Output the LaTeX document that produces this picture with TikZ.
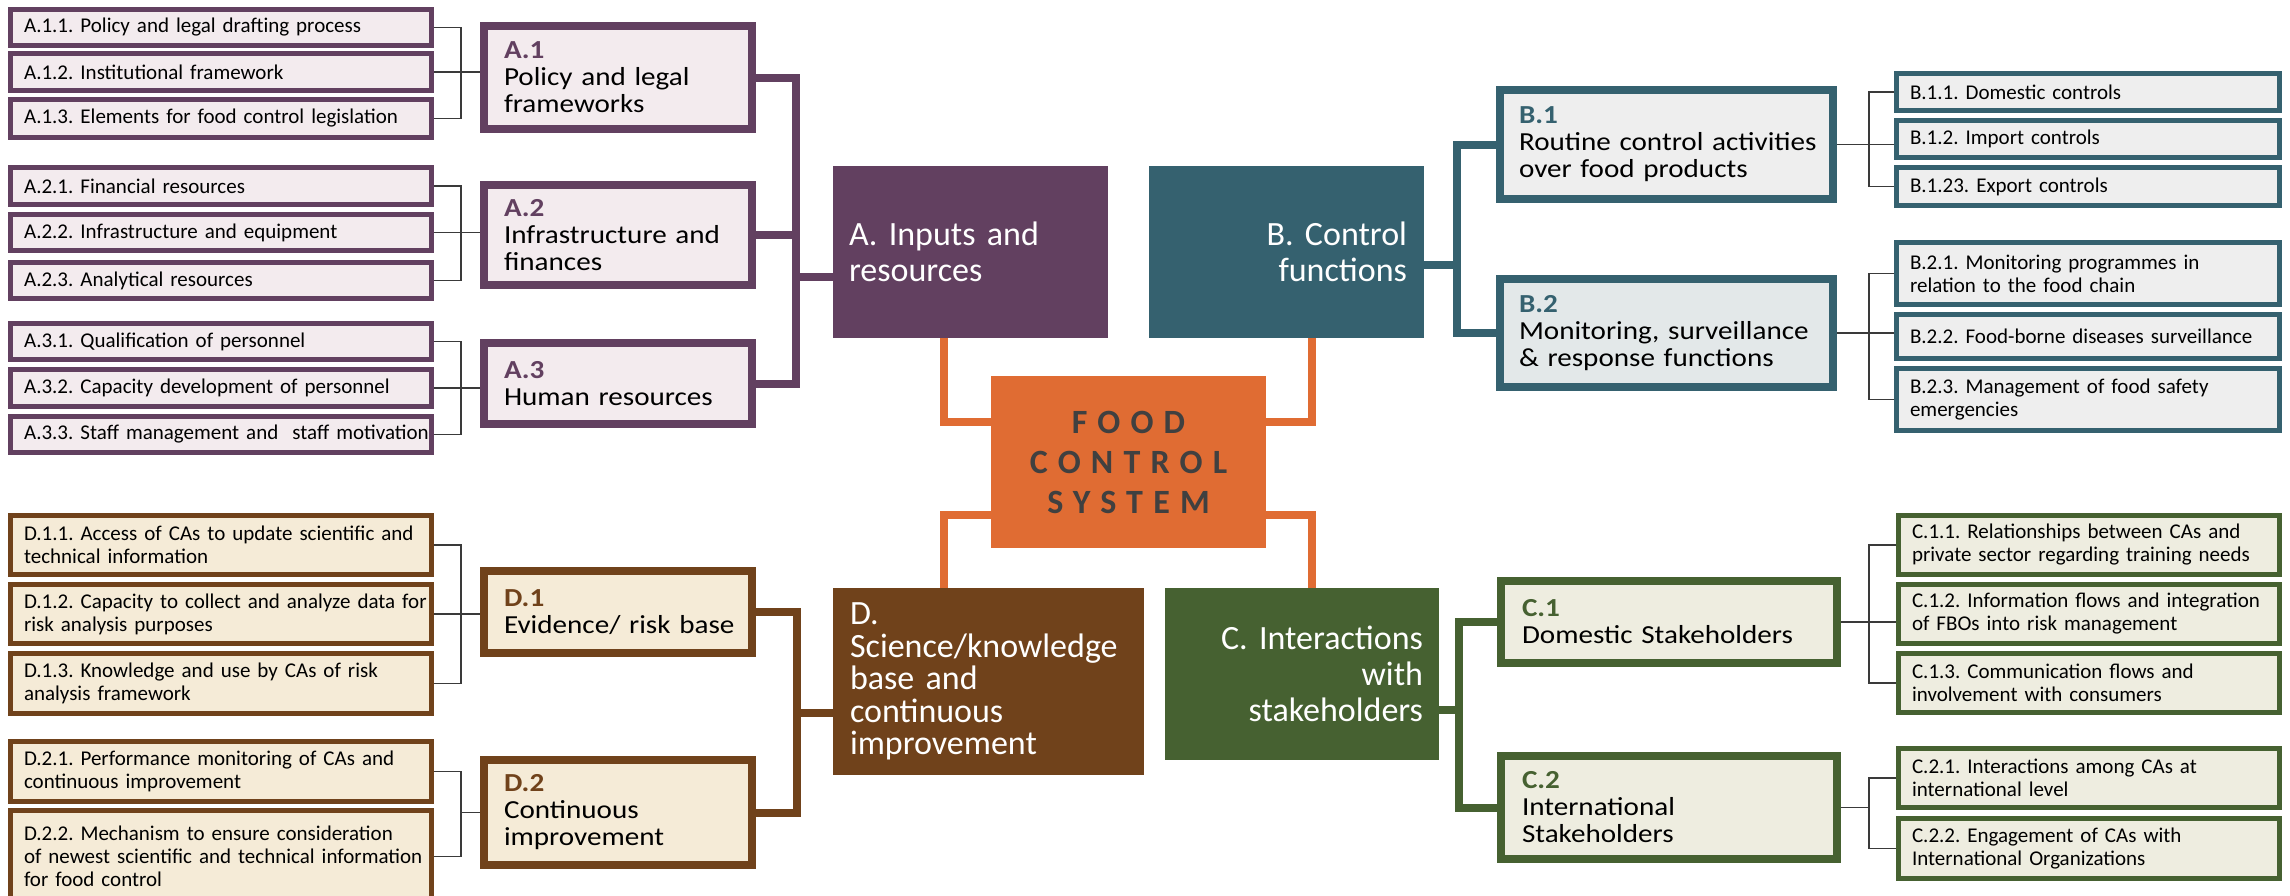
\documentclass[tikz,border=0pt]{standalone}
\usepackage{fontspec}
\setmainfont{Carlito}
\newfontfamily\grpfamily{Carlito}[FakeStretch=1.12]
\newfontfamily\foodfamily{Carlito}[LetterSpace=30]
\usetikzlibrary{calc}
\frenchspacing

\definecolor{pur}{HTML}{624060}
\definecolor{purL}{HTML}{F3EBEE}
\definecolor{tea}{HTML}{35616F}
\definecolor{teaL}{HTML}{EEEEEE}
\definecolor{teaLL}{HTML}{E3E8E9}
\definecolor{brn}{HTML}{70421B}
\definecolor{brnL}{HTML}{F5EBD7}
\definecolor{grn}{HTML}{466131}
\definecolor{grnL}{HTML}{EEEDE0}
\definecolor{org}{HTML}{E06C33}
\definecolor{fdtxt}{HTML}{404040}
\definecolor{thinc}{HTML}{3A3A3A}

% #1 style, #2 name, #3 x1, #4 y1, #5 x2, #6 y2, #7 line width, #8 text pad, #9 text
\newcommand\mkbox[9]{%
  \pgfmathsetmacro\bxw{#5-#3-#7}%
  \pgfmathsetmacro\bxh{#6-#4-#7}%
  \pgfmathsetmacro\bxt{#5-#3-2*#8}%
  \pgfmathsetmacro\bxcx{(#3+#5)/2}%
  \pgfmathsetmacro\bxcy{(#4+#6)/2}%
  \node[#1, line width=#7pt, minimum width=\bxw pt, minimum height=\bxh pt, text width=\bxt pt] (#2) at (\bxcx,\bxcy) {#9};%
}
\newcommand\glab[2]{\mbox{\bfseries\color{#1}#2}}

\tikzset{
  subbox/.style 2 args={draw=#1, fill=#2, align=left, inner sep=0pt, text=black,
    font=\fontsize{21}{23}\selectfont},
  grpbox/.style 2 args={draw=#1, fill=#2, align=left, inner sep=0pt, text=black,
    font=\grpfamily\fontsize{26}{27}\selectfont},
  mainL/.style={fill=#1, draw=none, align=left, inner sep=0pt, text=white,
    font=\fontsize{34}{36}\selectfont},
  mainR/.style={fill=#1, draw=none, align=right, inner sep=0pt, text=white,
    font=\fontsize{34}{36}\selectfont},
  foodbox/.style={fill=org, draw=none, align=center, inner sep=0pt, text=fdtxt,
    font=\foodfamily\bfseries\fontsize{34}{40}\selectfont},
  thinl/.style={draw=thinc, line width=1.8pt},
  thk/.style={draw=#1, line width=8pt, line join=miter},
  oline/.style={draw=org, line width=8pt, line join=miter},
}

\begin{document}
\begin{tikzpicture}[x=1pt,y=-1pt]
\useasboundingbox (0,0) rectangle (2290,895);
\clip (0,0) rectangle (2290,895);
\fill[white] (0,0) rectangle (2290,895);

% ---------- main boxes ----------
\mkbox{mainL=pur}{A}{833}{166}{1108}{338}{0}{16}{\mbox{A. Inputs and}\\\mbox{resources}}
\mkbox{mainR=tea}{B}{1149}{166}{1424}{338}{0}{17}{\mbox{B. Control}\\\mbox{functions}}
\mkbox{foodbox}{food}{991}{376}{1266}{548}{0}{10}{FOOD\\CONTROL\\SYSTEM}
\mkbox{mainR=grn}{C}{1165}{588}{1439}{760}{0}{16}{\mbox{C. Interactions}\\\mbox{with}\\\mbox{stakeholders}}
\mkbox{mainL=brn, font=\fontsize{34}{32.5}\selectfont}{D}{833}{588}{1144}{775}{0}{17}{\mbox{D.}\\\mbox{Science/knowledge}\\\mbox{base and}\\\mbox{continuous}\\\mbox{improvement}}

% ---------- A ----------
\mkbox{grpbox={pur}{purL}}{a1}{480}{22}{756}{133}{8}{24}{\glab{pur}{A.1}\\\mbox{Policy and legal}\\\mbox{frameworks}}
\mkbox{grpbox={pur}{purL}}{a2}{480}{181}{756}{289}{8}{24}{\glab{pur}{A.2}\\\mbox{Infrastructure and}\\\mbox{finances}}
\mkbox{grpbox={pur}{purL}}{a3}{480}{339}{756}{428}{8}{24}{\glab{pur}{A.3}\\\mbox{Human resources}}

\mkbox{subbox={pur}{purL}}{a11}{8}{7}{434}{48}{5}{16}{\mbox{A.1.1. Policy and legal drafting process}}
\mkbox{subbox={pur}{purL}}{a12}{8}{51}{434}{93}{5}{16}{\mbox{A.1.2. Institutional framework}}
\mkbox{subbox={pur}{purL}}{a13}{8}{97}{434}{140}{5}{16}{\mbox{A.1.3. Elements for food control legislation}}
\mkbox{subbox={pur}{purL}}{a21}{8}{165}{434}{207}{5}{16}{\mbox{A.2.1. Financial resources}}
\mkbox{subbox={pur}{purL}}{a22}{8}{212}{434}{253}{5}{16}{\mbox{A.2.2. Infrastructure and equipment}}
\mkbox{subbox={pur}{purL}}{a23}{8}{260}{434}{301}{5}{16}{\mbox{A.2.3. Analytical resources}}
\mkbox{subbox={pur}{purL}}{a31}{8}{321}{434}{362}{5}{16}{\mbox{A.3.1. Qualification of personnel}}
\mkbox{subbox={pur}{purL}}{a32}{8}{367}{434}{409}{5}{16}{\mbox{A.3.2. Capacity development of personnel}}
\mkbox{subbox={pur}{purL}}{a33}{8}{414}{434}{455}{5}{16}{\mbox{A.3.3. Staff management and~ staff motivation}}

% ---------- B ----------
\mkbox{grpbox={tea}{teaL}}{b1}{1496}{86}{1837}{203}{8}{23}{\glab{tea}{B.1}\\\mbox{Routine control activities}\\\mbox{over food products}}
\mkbox{grpbox={tea}{teaLL}}{b2}{1496}{275}{1837}{391}{8}{23}{\glab{tea}{B.2}\\\mbox{Monitoring, surveillance}\\\mbox{\& response functions}}

\mkbox{subbox={tea}{teaL}}{b11}{1894}{71}{2282}{113}{5}{16}{\mbox{B.1.1. Domestic controls}}
\mkbox{subbox={tea}{teaL}}{b12}{1894}{118}{2282}{160}{5}{16}{\mbox{B.1.2. Import controls}}
\mkbox{subbox={tea}{teaL}}{b13}{1894}{165}{2282}{208}{5}{16}{\mbox{B.1.23. Export controls}}
\mkbox{subbox={tea}{teaL}}{b21}{1894}{240}{2282}{307}{5}{16}{\mbox{B.2.1. Monitoring programmes in}\\\mbox{relation to the food chain}}
\mkbox{subbox={tea}{teaL}}{b22}{1894}{312}{2282}{361}{5}{16}{\mbox{B.2.2. Food-borne diseases surveillance}}
\mkbox{subbox={tea}{teaL}}{b23}{1894}{366}{2282}{433}{5}{16}{\mbox{B.2.3. Management of food safety}\\\mbox{emergencies}}

% ---------- C ----------
\mkbox{grpbox={grn}{grnL}}{c1}{1497}{577}{1841}{667}{8}{25}{\glab{grn}{C.1}\\\mbox{Domestic Stakeholders}}
\mkbox{grpbox={grn}{grnL}}{c2}{1497}{752}{1841}{863}{8}{25}{\glab{grn}{C.2}\\\mbox{International}\\\mbox{Stakeholders}}

\mkbox{subbox={grn}{grnL}}{c11}{1896}{513}{2282}{577}{5}{16}{\mbox{C.1.1. Relationships between CAs and}\\\mbox{private sector regarding training needs}}
\mkbox{subbox={grn}{grnL}}{c12}{1896}{582}{2282}{646}{5}{16}{\mbox{C.1.2. Information flows and integration}\\\mbox{of FBOs into risk management}}
\mkbox{subbox={grn}{grnL}}{c13}{1896}{651}{2282}{715}{5}{16}{\mbox{C.1.3. Communication flows and}\\\mbox{involvement with consumers}}
\mkbox{subbox={grn}{grnL}}{c21}{1896}{746}{2282}{810}{5}{16}{\mbox{C.2.1. Interactions among CAs at}\\\mbox{international level}}
\mkbox{subbox={grn}{grnL}}{c22}{1896}{816}{2282}{881}{5}{16}{\mbox{C.2.2. Engagement of CAs with}\\\mbox{International Organizations}}

% ---------- D ----------
\mkbox{grpbox={brn}{brnL}}{d1}{480}{567}{756}{657}{8}{24}{\glab{brn}{D.1}\\\mbox{Evidence/ risk base}}
\mkbox{grpbox={brn}{brnL}}{d2}{480}{756}{756}{869}{8}{24}{\glab{brn}{D.2}\\\mbox{Continuous}\\\mbox{improvement}}

\mkbox{subbox={brn}{brnL}}{d11}{8}{513}{434}{577}{5}{16}{\mbox{D.1.1. Access of CAs to update scientific and}\\\mbox{technical information}}
\mkbox{subbox={brn}{brnL}}{d12}{8}{582}{434}{646}{5}{16}{\mbox{D.1.2. Capacity to collect and analyze data for}\\\mbox{risk analysis purposes}}
\mkbox{subbox={brn}{brnL}}{d13}{8}{651}{434}{716}{5}{16}{\mbox{D.1.3. Knowledge and use by CAs of risk}\\\mbox{analysis framework}}
\mkbox{subbox={brn}{brnL}}{d21}{8}{739}{434}{804}{5}{16}{\mbox{D.2.1. Performance monitoring of CAs and}\\\mbox{continuous improvement}}
\mkbox{subbox={brn}{brnL}}{d22}{8}{808}{434}{905}{5}{16}{\mbox{D.2.2. Mechanism to ensure consideration}\\\mbox{of newest scientific and technical information}\\\mbox{for food control}}

% ---------- helper coordinates ----------
\coordinate (kL) at (461,0);
\coordinate (kR) at (1869,0);
\coordinate (tA) at (796,0);
\coordinate (tD) at (797,0);
\coordinate (tB) at (1457,0);
\coordinate (tC) at (1459,0);
\coordinate (oL) at (944,0);
\coordinate (oR) at (1312,0);

% ---------- thin brackets ----------
\foreach \p/\q/\r/\g in {a11/a12/a13/a1, a21/a22/a23/a2, a31/a32/a33/a3, d11/d12/d13/d1}{
  \draw[thinl] (\p.east) -- (\p.east -| kL) -- (\r.east -| kL) -- (\r.east);
  \draw[thinl] (\q.east) -- (\q.east -| \g.west);
}
\draw[thinl] (d21.east) -- (d21.east -| kL) -- (d22.east -| kL) -- (d22.east);
\draw[thinl] (d2.west) -- (d2.west -| kL);
\foreach \p/\q/\r/\g in {b11/b12/b13/b1, b21/b22/b23/b2, c11/c12/c13/c1}{
  \draw[thinl] (\p.west) -- (\p.west -| kR) -- (\r.west -| kR) -- (\r.west);
  \draw[thinl] (\g.east) -- (\g.east -| \q.west);
}
\draw[thinl] (c21.west) -- (c21.west -| kR) -- (c22.west -| kR) -- (c22.west);
\draw[thinl] (c2.east) -- (c2.east -| kR);

% ---------- thick connectors ----------
\draw[thk=pur] (a1.east) -- (a1.east -| tA) -- (a3.east -| tA) -- (a3.east);
\draw[thk=pur] (a2.east) -- (a2.east -| tA);
\draw[thk=pur] ([yshift=-25pt]A.west) -- ([yshift=-25pt]A.west -| tA);

\draw[thk=tea] (b1.west) -- (b1.west -| tB) -- (b2.west -| tB) -- (b2.west);
\draw[thk=tea] ([yshift=-13pt]B.east) -- ([yshift=-13pt]B.east -| tB);

\draw[thk=grn] (c1.west) -- (c1.west -| tC) -- (c2.west -| tC) -- (c2.west);
\draw[thk=grn] ([yshift=-36pt]C.east) -- ([yshift=-36pt]C.east -| tC);

\draw[thk=brn] (d1.east) -- (d1.east -| tD) -- (d2.east -| tD) -- (d2.east);
\draw[thk=brn] ([yshift=-31.5pt]D.west) -- ([yshift=-31.5pt]D.west -| tD);

% ---------- orange connectors ----------
\draw[oline] ([yshift=-46pt]food.north west) -| (A.south -| oL);
\draw[oline] ([yshift=-46pt]food.north east) -| (B.south -| oR);
\draw[oline] ([yshift=33pt]food.south west) -| (D.north -| oL);
\draw[oline] ([yshift=33pt]food.south east) -| (C.north -| oR);
\end{tikzpicture}
\end{document}
